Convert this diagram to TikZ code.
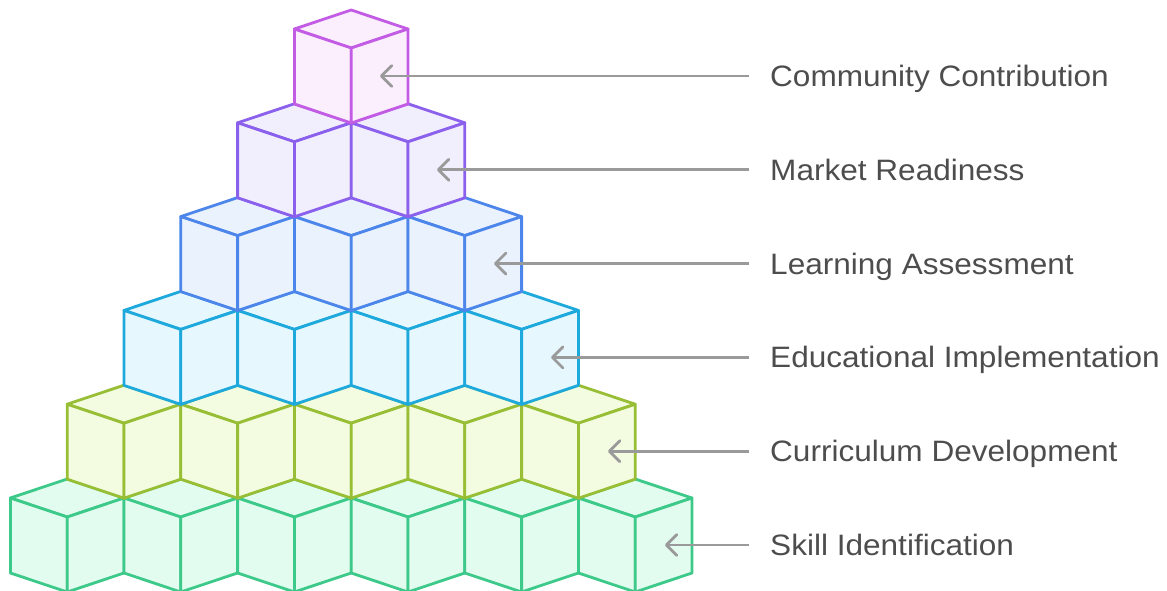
\documentclass[tikz,border=0pt]{standalone}
\usepackage{fontspec}
\setmainfont{Liberation Sans}[FakeStretch=1.07]
\usetikzlibrary{arrows.meta}
\definecolor{s0}{HTML}{C35CE4}\definecolor{f0}{HTML}{FBEFFD}
\definecolor{s1}{HTML}{8B60EC}\definecolor{f1}{HTML}{F1EFFD}
\definecolor{s2}{HTML}{4D86EA}\definecolor{f2}{HTML}{EAF2FD}
\definecolor{s3}{HTML}{1EA9DC}\definecolor{f3}{HTML}{E6F7FE}
\definecolor{s4}{HTML}{97BE34}\definecolor{f4}{HTML}{F3FCE0}
\definecolor{s5}{HTML}{3DC98A}\definecolor{f5}{HTML}{E2FCEF}
\definecolor{arrowgray}{HTML}{9A9A9A}
\definecolor{labelgray}{HTML}{4D4D4D}
\tikzset{
  cubeface/.style={line width=2.8pt, line join=round},
  connector/.style={arrowgray, line width=2.8pt, -{Straight Barb[round,length=10.5pt,width=21pt]}},
  label/.style={anchor=base west, inner sep=0pt, text=labelgray, font=\fontsize{29.5}{32}\selectfont}
}
\newcommand{\mycube}[4]{% cx, py, stroke, fill
  \begin{scope}[shift={(#1,#2)}]
    \filldraw[cubeface, draw=#3, fill=#4] (0,0) -- (56.8,19) -- (0,38) -- (-56.8,19) -- cycle;
    \filldraw[cubeface, draw=#3, fill=#4] (-56.8,19) -- (0,38) -- (0,113) -- (-56.8,94) -- cycle;
    \filldraw[cubeface, draw=#3, fill=#4] (0,38) -- (56.8,19) -- (56.8,94) -- (0,113) -- cycle;
  \end{scope}}
\begin{document}
\begin{tikzpicture}[x=1pt,y=-1pt]
\useasboundingbox (0,0) rectangle (1167,591);
% cubes, bottom row first
\foreach \r in {5,4,3,2,1,0}{
  \pgfmathtruncatemacro{\rr}{\r}
  \foreach \i in {0,...,\rr}{
    \pgfmathsetmacro{\cx}{351.2+113.6*(\i-\rr/2)}
    \pgfmathsetmacro{\py}{10+93.8*\rr}
    \mycube{\cx}{\py}{s\rr}{f\rr}
  }
}
% tips
\foreach \r in {0,...,5}{
  \coordinate (tip\r) at ({380+57*\r},{76+93.8*\r});
  \coordinate (start\r) at (749,{76+93.8*\r});
}
\node[label] (l0) at (770,{76+10.5}) {Community Contribution};
\node[label] (l1) at (770,{76+93.8+10.5}) {Market Readiness};
\node[label] (l2) at (770,{76+2*93.8+10.5}) {Learning Assessment};
\node[label] (l3) at (770,{76+3*93.8+10.5}) {Educational Implementation};
\node[label] (l4) at (770,{76+4*93.8+10.5}) {Curriculum Development};
\node[label] (l5) at (770,{76+5*93.8+10.5}) {Skill Identification};
\foreach \r in {0,...,5}{
  \draw[connector] (start\r) -- (tip\r);
}
\end{tikzpicture}
\end{document}
